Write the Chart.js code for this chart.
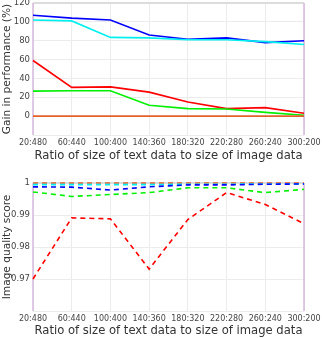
<!DOCTYPE html>
<html>
<head>
<meta charset="utf-8">
<script src="https://cdn.jsdelivr.net/npm/chart.js@4"></script>
<style>
  body { margin: 0; background: #fff; }
  .box { position: absolute; left: 0; width: 322px; height: 169px; }
</style>
</head>
<body>
<div class="box" style="top:0"><canvas id="gainChart" width="322" height="169"></canvas></div>
<div class="box" style="top:169px"><canvas id="qualityChart" width="322" height="169"></canvas></div>
<script>
// --- Data ---
const ratios = ['20:480', '60:440', '100:400', '140:360', '180:320', '220:280', '260:240', '300:200'];

const gainBlue   = [107, 104, 102, 86, 81.5, 83, 78, 80];
const gainCyan   = [102, 101, 83.5, 83, 81, 81, 79, 76];
const gainRed    = [59, 30.5, 31, 25.5, 15, 8, 9, 3];
const gainGreen  = [26.5, 27, 27, 11.5, 8, 7.5, 4, 1];
const gainOrange = [0, 0, 0, 0, 0, 0, 0, 0];

const qualRed    = [0.970, 0.9891, 0.9888, 0.9731, 0.9886, 0.9970, 0.9933, 0.9873];
const qualGreen  = [0.9972, 0.9958, 0.9964, 0.9970, 0.9985, 0.9985, 0.9970, 0.9980];
const qualBlue   = [0.9988, 0.9987, 0.9978, 0.9988, 0.9994, 0.9994, 0.9996, 0.9997];
const qualCyan   = [0.9995, 0.9995, 0.9995, 0.9995, 0.9996, 0.9996, 0.9997, 0.9997];
const qualOrange = [1.0, 1.0, 1.0, 1.0, 1.0, 1.0, 1.0, 1.0];

const COLORS = { blue: '#0000ff', cyan: '#00f0f0', red: '#ff0000', green: '#00f000', orange: '#e2622c' };

const FONT = 'DejaVu Sans';
const GRID = '#ececec';

// --- Axis frame: lilac sides, grey top (drawn under the lines) ---
const frame = {
    id: 'frame',
    beforeDatasetsDraw(chart) {
        const { ctx, chartArea: a } = chart;
        ctx.save();
        ctx.lineWidth = 2;
        ctx.strokeStyle = '#dcdcdc';
        ctx.beginPath(); ctx.moveTo(a.left, a.top); ctx.lineTo(a.right, a.top); ctx.stroke();
        ctx.lineWidth = 1.5;
        ctx.strokeStyle = '#d6b8dc';
        ctx.beginPath(); ctx.moveTo(a.left, a.top); ctx.lineTo(a.left, a.bottom); ctx.stroke();
        ctx.beginPath(); ctx.moveTo(a.right, a.top); ctx.lineTo(a.right, a.bottom); ctx.stroke();
        ctx.restore();
    }
};

function ds(data, color, dashed) {
    return {
        data: data,
        borderColor: color,
        borderWidth: 1.6,
        borderDash: dashed ? [5, 4] : [],
        pointRadius: 0,
        tension: 0,
        fill: false,
        clip: 3
    };
}

// xHeight: space under the plot; titlePad: gap under the x title
function makeChart(id, datasets, yOpts, yTitle, padTop, xHeight, titlePad) {
    return new Chart(document.getElementById(id), {
        type: 'line',
        data: { labels: ratios, datasets: datasets },
        options: {
            responsive: false,
            animation: false,
            layout: { padding: { top: padTop, right: 18, bottom: 0, left: 0 } },
            plugins: { legend: { display: false }, tooltip: { enabled: false } },
            scales: {
                x: {
                    offset: false,
                    grid: { color: GRID, drawTicks: false },
                    border: { display: false },
                    afterFit: (s) => { s.height = xHeight; s.paddingLeft = 0; s.paddingRight = 0; },
                    ticks: { color: '#444', font: { family: FONT, size: 8 }, padding: 3, maxRotation: 0, autoSkip: false },
                    title: { display: true, text: 'Ratio of size of text data to size of image data', color: '#333', font: { family: FONT, size: 11.6 }, padding: { top: 0, bottom: titlePad } }
                },
                y: Object.assign({
                    grid: { color: GRID, drawTicks: false },
                    border: { display: false },
                    afterFit: (s) => { s.width = 33; s.paddingTop = 0; s.paddingBottom = 0; },
                    title: { display: true, text: yTitle, color: '#333', font: { family: FONT, size: 10.6 }, padding: { top: 1, bottom: 2 } }
                }, yOpts)
            }
        },
        plugins: [frame]
    });
}

makeChart('gainChart', [
    ds(gainOrange, COLORS.orange),
    ds(gainGreen, COLORS.green),
    ds(gainRed, COLORS.red),
    ds(gainCyan, COLORS.cyan),
    ds(gainBlue, COLORS.blue)
], {
    min: -20, max: 120,
    ticks: { stepSize: 20, color: '#444', font: { family: FONT, size: 8.5 }, padding: 3,
        callback: (v) => v === -20 ? '' : v }
}, 'Gain in performance (%)', 3, 34, 6.5);

makeChart('qualityChart', [
    ds(qualRed, COLORS.red, true),
    ds(qualGreen, COLORS.green, true),
    ds(qualBlue, COLORS.blue, true),
    ds(qualCyan, COLORS.cyan, true),
    ds(qualOrange, COLORS.orange, true)
], {
    min: 0.96, max: 1,
    ticks: { stepSize: 0.01, color: '#444', font: { family: FONT, size: 8.5 }, padding: 3,
        callback: (v) => Math.abs(v - 0.96) < 1e-6 ? '' : parseFloat(v.toFixed(2)) }
}, 'Image quality score', 14, 27, 0);
</script>
</body>
</html>
